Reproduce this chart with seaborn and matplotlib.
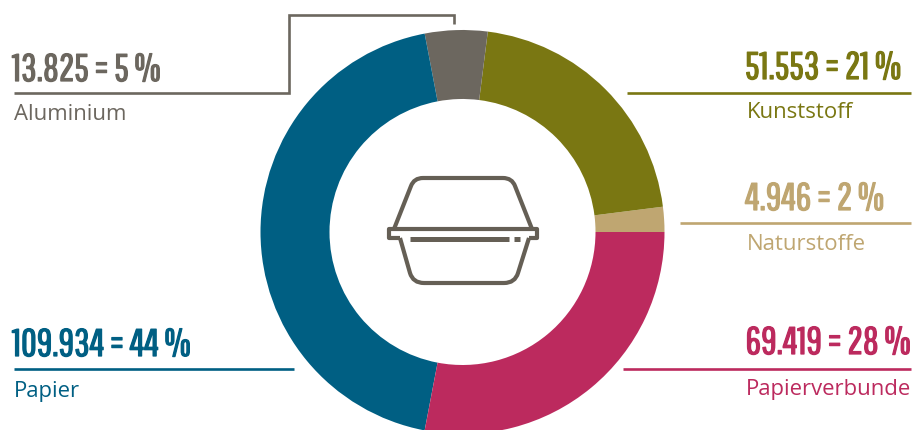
import matplotlib
matplotlib.use("Agg")
import matplotlib.pyplot as plt
import matplotlib.patheffects as pe
import seaborn as sns
from matplotlib.font_manager import FontProperties
from matplotlib.path import Path
from matplotlib.patches import PathPatch
from matplotlib.textpath import TextPath

# Packaging materials, in counter-clockwise wedge order from 3 o'clock
materials = ["Naturstoffe", "Kunststoff", "Aluminium", "Papier", "Papierverbunde"]
volumes = [4946, 51553, 13825, 109934, 69419]
shares = [2, 21, 5, 44, 28]
colors = ["#BFA671", "#7A7712", "#6C675F", "#005F83", "#BC2A5E"]

HEIGHT = 430
ICON = "#655F55"
HEAD_FONT = "Pathway Gothic One"
sns.set_theme(style="white")
palette = sns.color_palette(colors)

fig = plt.figure(figsize=(9.2, 4.3), dpi=100)
ax = fig.add_axes([0, 0, 1, 1])


def flip(y):
    return HEIGHT - y


# Donut, cut off slightly by the lower edge of the canvas
ax.pie(shares, colors=palette, startangle=0, counterclock=True,
       center=(462.5, flip(232)), radius=202, frame=True,
       wedgeprops=dict(width=69, linewidth=0))
ax.set_xlim(0, 920)
ax.set_ylim(0, HEIGHT)
ax.set_aspect("equal")
ax.axis("off")

# Size the headlines so their digits stand about 28 px tall at 100 dpi
digit_height = TextPath((0, 0), "8", prop=FontProperties(family=HEAD_FONT, size=10)).get_extents().height
head_size = 28 * 0.72 / digit_height * 10

# Headline, leader rule and caption per material
callouts = {
    "Aluminium": dict(x=12, ha="left", head=81, rule=((14, 93), (289, 93), (289, 15), (454, 15), (454, 24)), cap=114),
    "Kunststoff": dict(x=745, ha="left", head=79, rule=((627, 93), (911, 93)), cap=113),
    "Naturstoffe": dict(x=745, ha="left", head=210, rule=((680, 223), (911, 223)), cap=245),
    "Papier": dict(x=12, ha="left", head=356, rule=((14, 369), (294, 369)), cap=391),
    "Papierverbunde": dict(x=911, ha="right", head=354, rule=((623, 369), (911, 369)), cap=389),
}
for name, vol, pct, col in zip(materials, volumes, shares, palette):
    c = callouts[name]
    xs = [p[0] for p in c["rule"]]
    ys = [flip(p[1]) for p in c["rule"]]
    ax.plot(xs, ys, color=col, lw=1.9, solid_joinstyle="miter", solid_capstyle="butt")
    head = f"{vol:,}".replace(",", ".") + f" = {pct} %"
    ax.text(c["x"], flip(c["head"]), head, color=col, ha=c["ha"], va="baseline",
            family=[HEAD_FONT, "Roboto"], fontsize=head_size,
            path_effects=[pe.withStroke(linewidth=0.9, foreground=col)])
    cap_x = c["x"] + 2 if c["ha"] == "left" else c["x"]
    ax.text(cap_x, flip(c["cap"]), name, color=col, ha=c["ha"], va="center",
            family="Open Sans", fontsize=15.9)


def outline(points, codes=None, lw=2.6):
    verts = [(x, flip(y)) for x, y in points]
    if codes is None:
        codes = [Path.MOVETO] + [Path.LINETO] * (len(verts) - 1)
    ax.add_patch(PathPatch(Path(verts, codes), fill=False, edgecolor=ICON, lw=lw,
                           joinstyle="round", capstyle="butt"))


# Takeaway box in the middle of the ring: lid, tray, rim and tear line
corner_codes = [Path.MOVETO, Path.LINETO, Path.CURVE3, Path.CURVE3,
                Path.LINETO, Path.CURVE3, Path.CURVE3, Path.LINETO]
outline([(394, 229), (411, 186), (414, 178), (423, 178),
         (503, 178), (512, 178), (515, 186), (532, 229)], corner_codes, lw=3.0)
outline([(400, 238), (410, 273), (413, 283), (424, 283),
         (504, 283), (515, 283), (518, 273), (529, 238)], corner_codes, lw=3.0)
outline([(400, 238), (389, 238), (389, 229), (537, 229), (537, 238), (529, 238)], lw=3.0)
outline([(410, 238.5), (509, 238.5)], lw=3.6)
outline([(514, 238.5), (520, 238.5)], lw=3.6)

fig.savefig("out.png", dpi=100, facecolor="white")
